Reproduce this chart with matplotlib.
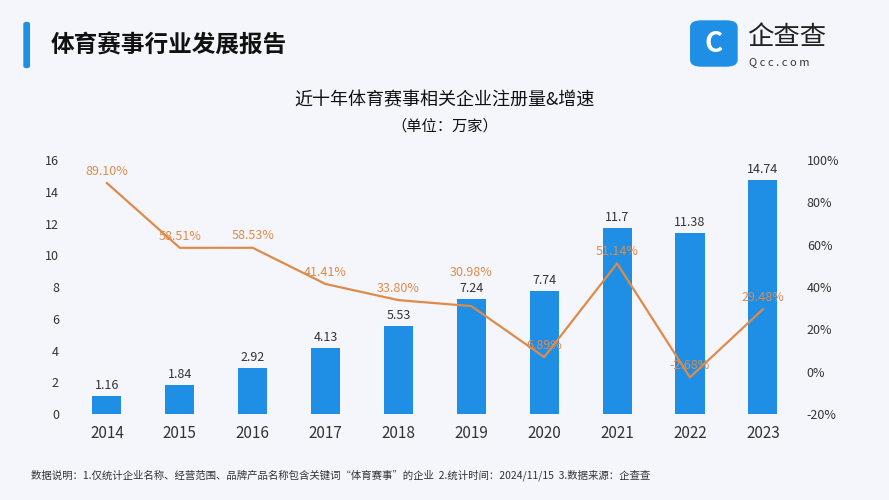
import matplotlib.pyplot as plt
from matplotlib.patches import FancyBboxPatch
from matplotlib.ticker import FuncFormatter

plt.rcParams['font.family'] = ['Noto Sans CJK SC', 'DejaVu Sans']

years = ['2014', '2015', '2016', '2017', '2018', '2019', '2020', '2021', '2022', '2023']
counts = [1.16, 1.84, 2.92, 4.13, 5.53, 7.24, 7.74, 11.7, 11.38, 14.74]
growth = [89.10, 58.51, 58.53, 41.41, 33.80, 30.98, 6.89, 51.14, -2.68, 29.48]
count_labels = ['1.16', '1.84', '2.92', '4.13', '5.53', '7.24', '7.74', '11.7', '11.38', '14.74']

BLUE = '#1f8fe6'
ORANGE = '#e08a4a'
TEXT = '#333333'

fig = plt.figure(figsize=(8.89, 5.0), dpi=100)
fig.patch.set_facecolor('#f4f6fb')

# header
fig.patches.append(FancyBboxPatch((0.027, 0.865), 0.006, 0.09, boxstyle='round,pad=0,rounding_size=0.003',
                                  transform=fig.transFigure, color=BLUE))
fig.text(0.057, 0.91, '体育赛事行业发展报告', fontsize=17, fontweight='bold', color='#111111', va='center')
fig.patches.append(FancyBboxPatch((0.777, 0.868), 0.052, 0.09, boxstyle='round,pad=0,rounding_size=0.012',
                                  transform=fig.transFigure, color=BLUE))
fig.text(0.803, 0.913, 'C', fontsize=20, color='white', fontweight='bold', ha='center', va='center')
fig.text(0.84, 0.925, '企查查', fontsize=19, color='#222222', va='center')
fig.text(0.843, 0.875, 'Q c c . c o m', fontsize=8, color='#333333', va='center')
fig.text(0.5, 0.8, '近十年体育赛事相关企业注册量&增速', fontsize=13, color='#111111', ha='center', va='center')
fig.text(0.5, 0.748, '（单位：万家）', fontsize=11, color='#111111', ha='center', va='center')

ax = fig.add_axes([0.085, 0.172, 0.81, 0.508])
ax.set_facecolor('none')
x = range(len(years))
ax.bar(x, counts, width=0.4, color=BLUE, zorder=2)
for i, (v, lab) in enumerate(zip(counts, count_labels)):
    ax.text(i, v + 0.25, lab, ha='center', va='bottom', fontsize=9, color=TEXT)
ax.set_ylim(0, 16)
ax.set_yticks(range(0, 17, 2))
ax.set_xlim(-0.43, len(years) - 0.55)
ax.set_xticks(list(x))
ax.set_xticklabels(years, fontsize=11, color=TEXT)
ax.tick_params(axis='y', labelsize=9, colors=TEXT, length=0, pad=12)
ax.tick_params(axis='x', length=0, pad=8)
for s in ['top', 'right', 'left', 'bottom']:
    ax.spines[s].set_visible(False)

ax2 = ax.twinx()
ax2.plot(list(x), growth, color=ORANGE, lw=1.6, zorder=3)
for i, g in enumerate(growth):
    dy = 13 if i == 5 else 2.5
    ax2.text(i, g + dy, f'{g:.2f}%', ha='center', va='bottom', fontsize=9, color=ORANGE, zorder=4)
ax2.set_ylim(-20, 100)
ax2.set_yticks(range(-20, 101, 20))
ax2.yaxis.set_major_formatter(FuncFormatter(lambda v, p: f'{v:.0f}%'))
ax2.tick_params(axis='y', labelsize=9, colors=TEXT, length=0, pad=8)
for s in ax2.spines.values():
    s.set_visible(False)

fig.text(0.035, 0.05, '数据说明：1.仅统计企业名称、经营范围、品牌产品名称包含关键词“体育赛事”的企业  2.统计时间：2024/11/15  3.数据来源：企查查',
         fontsize=7.5, color='#333333', va='center')

fig.savefig('out.png', dpi=100, facecolor=fig.get_facecolor())
